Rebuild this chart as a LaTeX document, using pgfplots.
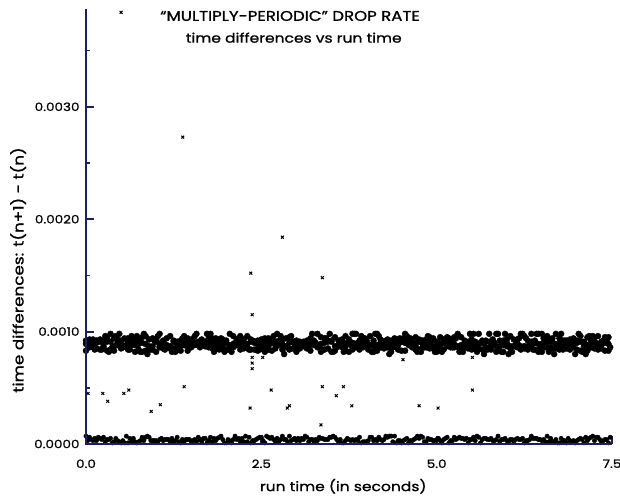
\documentclass[border=0pt]{standalone}
\usepackage{pgfplots}
\usepackage{pgfplotstable}
\pgfplotsset{compat=1.18}
\usepackage{fontspec}
\setmainfont{Poppins}[FakeStretch=1.18, FakeBold=1.0]
\definecolor{axisc}{RGB}{30,30,100}

\pgfplotstableread{
x xo a b c d l m
0.00 0.025 0.00083 0.00089 0.00092 0.00090 0.00007 0.00003
0.05 0.075 0.00086 0.00089 0.00093 0.00090 0.00006 0.00004
0.10 0.125 0.00086 0.00091 0.00093 0.00084 0.00003 0.00005
0.15 0.175 0.00085 0.00090 0.00092 0.00092 0.00003 0.00006
0.20 0.225 0.00084 0.00091 0.00093 0.00084 0.00005 0.00004
0.25 0.275 0.00085 0.00087 0.00092 0.00096 0.00006 0.00002
0.30 0.325 0.00083 0.00091 0.00095 0.00082 0.00004 0.00004
0.35 0.375 0.00084 0.00091 0.00098 0.00086 0.00005 0.00001
0.40 0.425 0.00083 0.00087 0.00094 0.00096 0.00002 0.00005
0.45 0.475 0.00088 0.00090 0.00093 0.00098 0.00003 0.00002
0.50 0.525 0.00085 0.00091 0.00092 0.00086 0.00001 0.00003
0.55 0.575 0.00087 0.00087 0.00094 0.00088 0.00001 0.00007
0.60 0.625 0.00084 0.00091 0.00094 0.00084 0.00001 0.00005
0.65 0.675 0.00088 0.00091 0.00096 0.00092 0.00002 0.00005
0.70 0.725 0.00082 0.00088 0.00093 0.00096 0.00002 0.00001
0.75 0.775 0.00084 0.00089 0.00092 0.00082 0.00002 0.00003
0.80 0.825 0.00082 0.00090 0.00095 0.00098 0.00006 0.00003
0.85 0.875 0.00083 0.00089 0.00096 0.00080 0.00006 0.00007
0.90 0.925 0.00085 0.00087 0.00093 0.00084 0.00006 0.00003
0.95 0.975 0.00084 0.00087 0.00094 0.00092 0.00003 0.00003
1.00 1.025 0.00082 0.00091 0.00093 0.00096 0.00003 0.00002
1.05 1.075 0.00086 0.00087 0.00098 0.00090 0.00004 0.00005
1.10 1.125 0.00085 0.00091 0.00092 0.00084 0.00003 0.00004
1.15 1.175 0.00086 0.00088 0.00094 0.00086 0.00004 0.00004
1.20 1.225 0.00085 0.00087 0.00096 0.00082 0.00002 0.00005
1.25 1.275 0.00085 0.00091 0.00092 0.00082 0.00002 0.00003
1.30 1.325 0.00085 0.00089 0.00091 0.00084 0.00006 0.00002
1.35 1.375 0.00083 0.00087 0.00092 0.00094 0.00001 0.00004
1.40 1.425 0.00088 0.00088 0.00096 0.00090 0.00002 0.00004
1.45 1.475 0.00083 0.00087 0.00094 0.00090 0.00004 0.00004
1.50 1.525 0.00086 0.00089 0.00093 0.00092 0.00002 0.00003
1.55 1.575 0.00088 0.00089 0.00096 0.00098 0.00004 0.00002
1.60 1.625 0.00088 0.00088 0.00091 0.00086 0.00006 0.00004
1.65 1.675 0.00088 0.00090 0.00093 0.00088 0.00002 0.00005
1.70 1.725 0.00087 0.00087 0.00091 0.00098 0.00005 0.00001
1.75 1.775 0.00086 0.00090 0.00094 0.00098 0.00003 0.00006
1.80 1.825 0.00085 0.00089 0.00094 0.00082 0.00002 0.00005
1.85 1.875 0.00085 0.00090 0.00094 0.00092 0.00003 0.00005
1.90 1.925 0.00084 0.00088 0.00093 0.00094 0.00006 0.00007
1.95 1.975 0.00086 0.00091 0.00093 0.00082 0.00004 0.00001
2.00 2.025 0.00084 0.00090 0.00092 0.00084 0.00001 0.00004
2.05 2.075 0.00088 0.00087 0.00098 0.00082 0.00003 0.00001
2.10 2.125 0.00086 0.00089 0.00096 0.00090 0.00004 0.00007
2.15 2.175 0.00088 0.00088 0.00093 0.00088 0.00004 0.00005
2.20 2.225 0.00084 0.00089 0.00096 0.00092 0.00002 0.00005
2.25 2.275 0.00085 0.00089 0.00093 0.00086 0.00002 0.00007
2.30 2.325 0.00086 0.00089 0.00096 0.00084 0.00002 0.00006
2.35 2.375 0.00084 0.00091 0.00093 0.00092 0.00001 0.00003
2.40 2.425 0.00084 0.00090 0.00091 0.00084 0.00003 0.00004
2.45 2.475 0.00083 0.00089 0.00092 0.00084 0.00005 0.00006
2.50 2.525 0.00086 0.00088 0.00093 0.00090 0.00006 0.00003
2.55 2.575 0.00082 0.00087 0.00094 0.00092 0.00001 0.00007
2.60 2.625 0.00084 0.00087 0.00094 0.00090 0.00006 0.00005
2.65 2.675 0.00083 0.00090 0.00093 0.00096 0.00006 0.00004
2.70 2.725 0.00085 0.00088 0.00091 0.00098 0.00002 0.00005
2.75 2.775 0.00088 0.00090 0.00092 0.00096 0.00002 0.00004
2.80 2.825 0.00084 0.00089 0.00093 0.00080 0.00007 0.00004
2.85 2.875 0.00086 0.00087 0.00094 0.00086 0.00004 0.00002
2.90 2.925 0.00084 0.00090 0.00095 0.00096 0.00007 0.00003
2.95 2.975 0.00085 0.00091 0.00091 0.00086 0.00004 0.00005
3.00 3.025 0.00082 0.00087 0.00092 0.00086 0.00003 0.00005
3.05 3.075 0.00085 0.00088 0.00091 0.00090 0.00003 0.00005
3.10 3.125 0.00087 0.00088 0.00091 0.00088 0.00004 0.00007
3.15 3.175 0.00085 0.00088 0.00092 0.00086 0.00006 0.00002
3.20 3.225 0.00083 0.00089 0.00094 0.00098 0.00004 0.00004
3.25 3.275 0.00088 0.00089 0.00092 0.00090 0.00002 0.00004
3.30 3.325 0.00086 0.00087 0.00098 0.00088 0.00003 0.00006
3.35 3.375 0.00082 0.00089 0.00095 0.00084 0.00005 0.00005
3.40 3.425 0.00084 0.00090 0.00094 0.00094 0.00004 0.00004
3.45 3.475 0.00085 0.00091 0.00092 0.00098 0.00004 0.00006
3.50 3.525 0.00082 0.00091 0.00092 0.00082 0.00006 0.00007
3.55 3.575 0.00083 0.00087 0.00095 0.00086 0.00006 0.00004
3.60 3.625 0.00088 0.00088 0.00092 0.00092 0.00002 0.00004
3.65 3.675 0.00086 0.00091 0.00093 0.00082 0.00001 0.00001
3.70 3.725 0.00083 0.00087 0.00096 0.00090 0.00003 0.00005
3.75 3.775 0.00082 0.00090 0.00093 0.00088 0.00004 0.00003
3.80 3.825 0.00084 0.00090 0.00098 0.00098 0.00004 0.00003
3.85 3.875 0.00086 0.00089 0.00098 0.00090 0.00004 0.00003
3.90 3.925 0.00084 0.00089 0.00092 0.00096 0.00006 0.00001
3.95 3.975 0.00086 0.00089 0.00092 0.00094 0.00002 0.00002
4.00 4.025 0.00087 0.00091 0.00092 0.00084 0.00002 0.00003
4.05 4.075 0.00088 0.00088 0.00096 0.00082 0.00006 0.00006
4.10 4.125 0.00082 0.00087 0.00092 0.00098 0.00003 0.00004
4.15 4.175 0.00083 0.00088 0.00098 0.00096 0.00003 0.00006
4.20 4.225 0.00086 0.00090 0.00093 0.00086 0.00004 0.00003
4.25 4.275 0.00085 0.00089 0.00091 0.00092 0.00004 0.00007
4.30 4.325 0.00086 0.00089 0.00093 0.00080 0.00006 0.00007
4.35 4.375 0.00082 0.00088 0.00092 0.00086 0.00007 0.00002
4.40 4.425 0.00088 0.00089 0.00094 0.00086 0.00007 0.00001
4.45 4.475 0.00084 0.00088 0.00093 0.00094 0.00003 0.00003
4.50 4.525 0.00083 0.00091 0.00091 0.00094 0.00001 0.00003
4.55 4.575 0.00083 0.00090 0.00098 0.00096 0.00004 0.00005
4.60 4.625 0.00088 0.00089 0.00093 0.00094 0.00001 0.00003
4.65 4.675 0.00086 0.00090 0.00091 0.00090 0.00003 0.00004
4.70 4.725 0.00084 0.00087 0.00095 0.00082 0.00005 0.00007
4.75 4.775 0.00084 0.00091 0.00093 0.00082 0.00005 0.00007
4.80 4.825 0.00086 0.00089 0.00092 0.00086 0.00006 0.00002
4.85 4.875 0.00086 0.00090 0.00093 0.00096 0.00002 0.00005
4.90 4.925 0.00085 0.00090 0.00095 0.00092 0.00004 0.00004
4.95 4.975 0.00085 0.00087 0.00094 0.00082 0.00003 0.00003
5.00 5.025 0.00082 0.00087 0.00091 0.00090 0.00004 0.00005
5.05 5.075 0.00083 0.00088 0.00095 0.00082 0.00003 0.00001
5.10 5.125 0.00084 0.00090 0.00093 0.00090 0.00004 0.00005
5.15 5.175 0.00087 0.00088 0.00095 0.00094 0.00006 0.00001
5.20 5.225 0.00086 0.00090 0.00092 0.00086 0.00003 0.00003
5.25 5.275 0.00086 0.00089 0.00095 0.00094 0.00006 0.00004
5.30 5.325 0.00086 0.00087 0.00098 0.00082 0.00005 0.00006
5.35 5.375 0.00086 0.00088 0.00095 0.00082 0.00005 0.00005
5.40 5.425 0.00086 0.00088 0.00092 0.00088 0.00004 0.00005
5.45 5.475 0.00085 0.00089 0.00091 0.00098 0.00001 0.00004
5.50 5.525 0.00084 0.00088 0.00093 0.00098 0.00004 0.00006
5.55 5.575 0.00085 0.00088 0.00091 0.00082 0.00003 0.00007
5.60 5.625 0.00085 0.00089 0.00098 0.00090 0.00006 0.00001
5.65 5.675 0.00084 0.00090 0.00092 0.00080 0.00004 0.00005
5.70 5.725 0.00086 0.00091 0.00092 0.00084 0.00005 0.00004
5.75 5.775 0.00086 0.00091 0.00098 0.00084 0.00004 0.00005
5.80 5.825 0.00088 0.00088 0.00093 0.00090 0.00003 0.00003
5.85 5.875 0.00082 0.00087 0.00098 0.00098 0.00004 0.00007
5.90 5.925 0.00083 0.00087 0.00092 0.00082 0.00002 0.00004
5.95 5.975 0.00082 0.00088 0.00092 0.00098 0.00004 0.00005
6.00 6.025 0.00087 0.00090 0.00093 0.00080 0.00003 0.00002
6.05 6.075 0.00085 0.00087 0.00096 0.00082 0.00004 0.00004
6.10 6.125 0.00087 0.00087 0.00093 0.00092 0.00002 0.00004
6.15 6.175 0.00086 0.00090 0.00093 0.00094 0.00005 0.00004
6.20 6.225 0.00084 0.00087 0.00098 0.00098 0.00004 0.00005
6.25 6.275 0.00085 0.00087 0.00096 0.00094 0.00001 0.00003
6.30 6.325 0.00084 0.00087 0.00092 0.00086 0.00003 0.00004
6.35 6.375 0.00088 0.00091 0.00098 0.00084 0.00007 0.00005
6.40 6.425 0.00084 0.00090 0.00092 0.00098 0.00005 0.00005
6.45 6.475 0.00082 0.00089 0.00098 0.00086 0.00004 0.00004
6.50 6.525 0.00082 0.00089 0.00098 0.00094 0.00003 0.00004
6.55 6.575 0.00086 0.00088 0.00092 0.00096 0.00002 0.00007
6.60 6.625 0.00082 0.00091 0.00094 0.00086 0.00002 0.00005
6.65 6.675 0.00085 0.00091 0.00094 0.00080 0.00002 0.00002
6.70 6.725 0.00085 0.00089 0.00098 0.00088 0.00004 0.00001
6.75 6.775 0.00084 0.00089 0.00094 0.00098 0.00001 0.00005
6.80 6.825 0.00084 0.00087 0.00092 0.00092 0.00003 0.00003
6.85 6.875 0.00085 0.00088 0.00092 0.00086 0.00001 0.00005
6.90 6.925 0.00084 0.00089 0.00093 0.00086 0.00003 0.00002
6.95 6.975 0.00086 0.00091 0.00094 0.00080 0.00003 0.00001
7.00 7.025 0.00084 0.00090 0.00092 0.00098 0.00003 0.00004
7.05 7.075 0.00083 0.00091 0.00096 0.00082 0.00005 0.00004
7.10 7.125 0.00082 0.00087 0.00091 0.00080 0.00001 0.00006
7.15 7.175 0.00083 0.00088 0.00095 0.00096 0.00003 0.00005
7.20 7.225 0.00086 0.00089 0.00092 0.00096 0.00006 0.00007
7.25 7.275 0.00085 0.00091 0.00095 0.00090 0.00003 0.00006
7.30 7.325 0.00084 0.00087 0.00096 0.00086 0.00006 0.00004
7.35 7.375 0.00085 0.00088 0.00091 0.00092 0.00002 0.00003
7.40 7.425 0.00083 0.00090 0.00095 0.00092 0.00004 0.00004
7.45 7.475 0.00083 0.00089 0.00095 0.00086 0.00001 0.00006
}\band

\begin{document}
\begin{tikzpicture}
\begin{axis}[
  scale only axis,
  width=526bp, height=435bp,
  xmin=0, xmax=7.5, ymin=0, ymax=0.00387,
  clip=false,
  axis lines=left,
  axis line style={draw=axisc, line width=2.6bp, -},
  xtick={0,2.5,5,7.5}, xticklabels={0.0,2.5,5.0,7.5},
  ytick={0,0.001,0.002,0.003}, yticklabels={0.0000,0.0010,0.0020,0.0030},
  minor ytick={0.0005,0.0015,0.0025,0.0035},
  scaled y ticks=false, scaled x ticks=false,
  tick align=inside,
  major tick length=8bp, minor tick length=4bp,
  major tick style={draw=axisc, line width=2bp},
  minor tick style={draw=axisc, line width=1.5bp},
  tick label style={font=\fontsize{11.5}{14}\selectfont},
  yticklabel style={xshift=-3bp},
  xticklabel style={yshift=-12bp},
  xlabel={run time (in seconds)},
  ylabel={time differences: t(n+1) - t(n)},
  every axis x label/.style={at={(axis description cs:0.489,-0.097)}, anchor=center, font=\fontsize{13.2}{16}\selectfont},
  every axis y label/.style={at={(axis description cs:-0.129,0.40)}, anchor=center, rotate=90, font=\fontsize{14.3}{17}\selectfont},
]
\addplot[only marks, mark=*, mark size=3bp, black] table[x=x,y=a]{\band};
\addplot[only marks, mark=*, mark size=3bp, black] table[x=x,y=b]{\band};
\addplot[only marks, mark=*, mark size=3bp, black] table[x=x,y=c]{\band};
\addplot[only marks, mark=*, mark size=3bp, black] table[x=xo,y=d]{\band};
\addplot[only marks, mark=*, mark size=2.2bp, black] table[x=x,y=l]{\band};
\addplot[only marks, mark=*, mark size=2.2bp, black] table[x=xo,y=m]{\band};
\addplot[only marks, mark=x, mark size=2bp, line width=1bp, black] coordinates {
  (0.50,0.00384) (1.38,0.00273) (2.80,0.00184) (2.35,0.00152) (3.37,0.00148)
  (2.37,0.00115) (2.37,0.00077) (2.37,0.00072) (2.37,0.00067)
  (2.52,0.00077) (4.52,0.00075) (5.51,0.00077)
  (0.03,0.00045) (0.24,0.00045) (0.31,0.00038) (0.54,0.00045) (0.61,0.00048)
  (0.93,0.00029) (1.06,0.00035) (1.40,0.00051) (2.34,0.00032) (2.64,0.00048)
  (2.87,0.00032) (2.90,0.00034) (3.37,0.00051) (3.67,0.00051) (3.57,0.00043)
  (3.79,0.00034) (3.35,0.00017) (4.75,0.00034) (5.02,0.00032) (5.51,0.00048)
};
\node[font=\fontsize{14.1}{16}\selectfont, anchor=center] at (rel axis cs:0.388,0.984) {“MULTIPLY-PERIODIC” DROP RATE};
\node[font=\fontsize{13.2}{15}\selectfont, anchor=center] at (rel axis cs:0.395,0.934) {time differences vs run time};
\end{axis}
\draw[axisc, line width=2.6bp] (0bp,435bp) -- (0bp,0bp) -- (526bp,0bp);
\pgfresetboundingbox
\path[use as bounding box] (-86bp,-56bp) rectangle (534bp,444bp);
\end{tikzpicture}
\end{document}
